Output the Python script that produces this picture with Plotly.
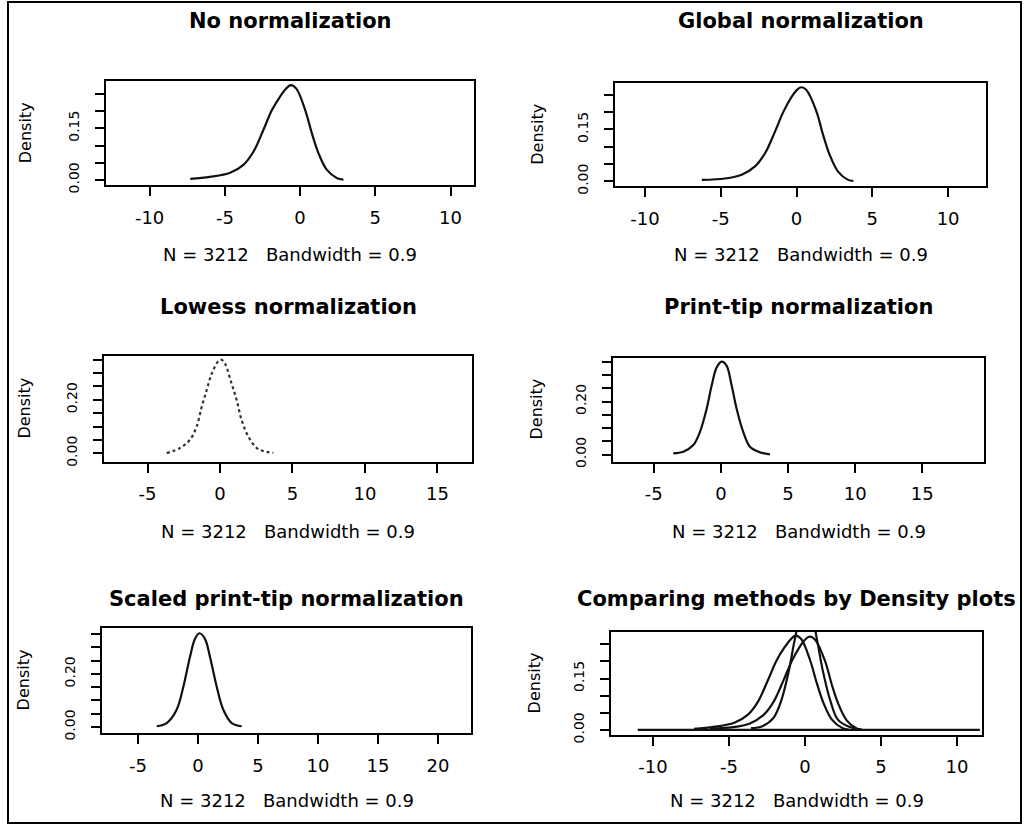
import plotly.graph_objects as go

W, H = 1024, 835

# ---------------- data ----------------
titles = ["No normalization", "Global normalization", "Lowess normalization",
          "Print-tip normalization", "Scaled print-tip normalization",
          "Comparing methods by Density plots"]
xlab_text = "N = 3212   Bandwidth = 0.9"
ylab_text = "Density"

nonorm_x = [-7.3, -6.0, -4.65, -3.77, -3.10, -2.44, -1.88, -1.33, -0.95, -0.62, -0.25, 0.33, 0.78, 1.22, 1.77, 2.44, 2.88]
nonorm_y = [0.003, 0.009, 0.021, 0.044, 0.082, 0.145, 0.202, 0.242, 0.264, 0.275, 0.265, 0.204, 0.136, 0.078, 0.030, 0.006, 0.001]

global_x = [-6.25, -4.72, -3.62, -2.74, -2.08, -1.43, -0.88, -0.33, 0.0, 0.30, 0.65, 1.32, 1.75, 2.19, 2.74, 3.40, 3.75]
global_y = [0.004, 0.008, 0.019, 0.043, 0.081, 0.143, 0.200, 0.244, 0.263, 0.272, 0.264, 0.201, 0.134, 0.076, 0.028, 0.004, 0.001]

lowess_x = [-3.68, -2.76, -2.07, -1.61, -1.26, -0.92, -0.57, -0.11, 0.10, 0.34, 0.80, 1.15, 1.49, 1.95, 2.53, 3.00, 3.68]
lowess_y = [0.001, 0.020, 0.051, 0.100, 0.174, 0.236, 0.298, 0.345, 0.350, 0.336, 0.261, 0.199, 0.125, 0.063, 0.020, 0.008, 0.002]

printtip_x = [-3.55, -2.80, -2.06, -1.56, -1.06, -0.69, -0.32, 0.05, 0.42, 0.80, 1.17, 1.66, 2.16, 2.90, 3.65]
printtip_y = [0.005, 0.011, 0.036, 0.086, 0.173, 0.260, 0.328, 0.350, 0.335, 0.260, 0.173, 0.086, 0.030, 0.009, 0.001]

scaled_x = [-3.44, -2.61, -1.78, -1.22, -0.67, -0.25, 0.11, 0.58, 1.00, 1.56, 2.11, 2.81, 3.64]
scaled_y = [0.003, 0.015, 0.065, 0.152, 0.264, 0.332, 0.353, 0.332, 0.264, 0.152, 0.065, 0.015, 0.003]

# flat tail of the comparison panel
cmp_tail_x = [-11.0, 11.5]
cmp_tail_y = [0.0, 0.0]

x_ranges = [[-12.9, 11.56], [-11.98, 12.5], [-8.0, 17.38],
            [-8.04, 19.6], [-8.0, 22.75], [-12.76, 11.64]]
y_ranges = [[-0.0152, 0.2865], [-0.0143, 0.2837], [-0.0307, 0.3656],
            [-0.026, 0.3657], [-0.022, 0.373], [-0.0145, 0.286]]
x_ticks = [[-10, -5, 0, 5, 10], [-10, -5, 0, 5, 10], [-5, 0, 5, 10, 15],
           [-5, 0, 5, 10, 15], [-5, 0, 5, 10, 15, 20], [-10, -5, 0, 5, 10]]
y_ticks_small = [0.00, 0.05, 0.10, 0.15, 0.20, 0.25]
y_labels_small = ["0.00", "", "", "0.15", "", ""]
y_ticks_large = [0.00, 0.05, 0.10, 0.15, 0.20, 0.25, 0.30, 0.35]
y_labels_large = ["0.00", "", "", "", "0.20", "", "", ""]

# ---------------- layout geometry (pixels) ----------------
boxes = [(106, 474, 82, 187), (615, 986, 84, 188),
         (104, 472, 359, 466), (613, 984, 361, 466),
         (102, 471, 634, 740), (611, 982, 638, 742)]
title_y = [21, 21, 310, 310, 605, 605]
xlab_y = [257, 257, 537, 537, 808, 808]
ylab_x = [25, 538, 25, 537, 23, 534]

FONT = "DejaVu Sans"

fig = go.Figure()

panel_curves = [
    [(nonorm_x, nonorm_y, "solid")],
    [(global_x, global_y, "solid")],
    [(lowess_x, lowess_y, "dot")],
    [(printtip_x, printtip_y, "solid")],
    [(scaled_x, scaled_y, "solid")],
    [(cmp_tail_x, cmp_tail_y, "solid"), (nonorm_x, nonorm_y, "solid"),
     (global_x, global_y, "solid"), (printtip_x, printtip_y, "solid")],
]

for i, curves in enumerate(panel_curves):
    ax = "" if i == 0 else str(i + 1)
    for (cx, cy, dash) in curves:
        fig.add_trace(go.Scatter(
            x=cx, y=cy, mode="lines", xaxis="x" + ax, yaxis="y" + ax,
            line=dict(color="#111111" if dash == "solid" else "#333333",
                      width=2.2, dash=dash, shape="spline", smoothing=1.0),
            showlegend=False, hoverinfo="skip", cliponaxis=True))

layout = dict(width=W, height=H, margin=dict(l=0, r=0, t=0, b=0),
              paper_bgcolor="white", plot_bgcolor="white", showlegend=False,
              font=dict(family=FONT, color="black"))

annotations = []
for i in range(6):
    ax = "" if i == 0 else str(i + 1)
    x0, x1, y0, y1 = boxes[i]
    yt = y_ticks_large if i in (2, 3, 4) else y_ticks_small
    yl = y_labels_large if i in (2, 3, 4) else y_labels_small
    layout["xaxis" + ax] = dict(
        domain=[x0 / W, x1 / W], range=x_ranges[i], anchor="y" + ax,
        tickvals=x_ticks[i], ticktext=[str(v) for v in x_ticks[i]],
        ticks="outside", ticklen=9, tickwidth=2, tickcolor="black",
        showline=True, mirror=True, linewidth=2, linecolor="black",
        showgrid=False, zeroline=False, fixedrange=True,
        tickfont=dict(family=FONT, size=18, color="black"),
        ticklabelstandoff=6)
    layout["yaxis" + ax] = dict(
        domain=[1 - y1 / H, 1 - y0 / H], range=y_ranges[i], anchor="x" + ax,
        tickvals=yt, ticktext=yl, tickangle=-90,
        ticks="outside", ticklen=9, tickwidth=2, tickcolor="black",
        showline=True, mirror=True, linewidth=2, linecolor="black",
        showgrid=False, zeroline=False, fixedrange=True,
        tickfont=dict(family=FONT, size=14, color="black"),
        ticklabelstandoff=10)
    cxm = (x0 + x1) / 2
    annotations.append(dict(text="<b>" + titles[i] + "</b>", x=cxm / W, y=1 - title_y[i] / H,
                            xref="paper", yref="paper", xanchor="center", yanchor="middle",
                            showarrow=False, font=dict(family=FONT, size=21, color="black")))
    annotations.append(dict(text=xlab_text, x=cxm / W, y=1 - xlab_y[i] / H,
                            xref="paper", yref="paper", xanchor="center", yanchor="middle",
                            showarrow=False, font=dict(family=FONT, size=18, color="black")))
    annotations.append(dict(text=ylab_text, x=ylab_x[i] / W, y=1 - ((y0 + y1) / 2) / H,
                            xref="paper", yref="paper", xanchor="center", yanchor="middle",
                            textangle=-90, showarrow=False,
                            font=dict(family=FONT, size=16, color="black")))

layout["annotations"] = annotations
layout["shapes"] = [dict(type="rect", xref="paper", yref="paper",
                         x0=8 / W, x1=1021 / W, y0=1 - 831 / H, y1=1 - 2 / H,
                         line=dict(color="black", width=2))]

fig.update_layout(**layout)
fig.write_html("out.html")
